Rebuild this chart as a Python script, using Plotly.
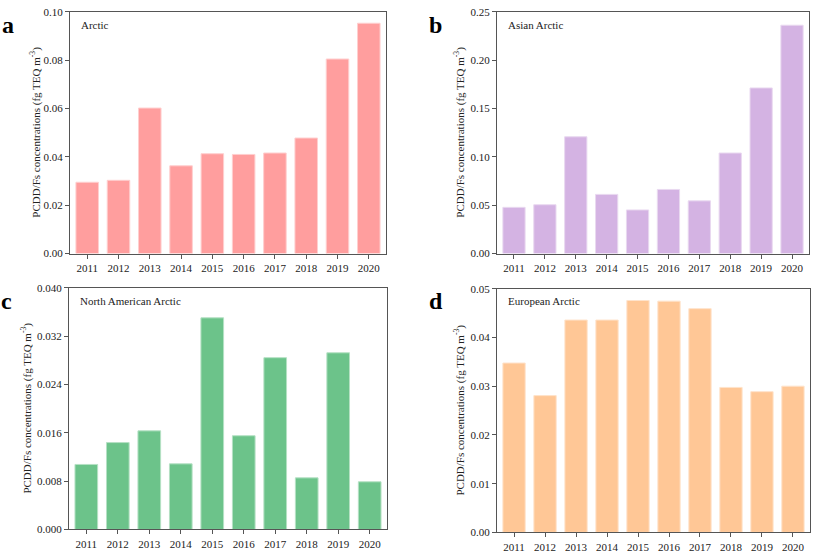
import plotly.graph_objects as go

years = ["2011", "2012", "2013", "2014", "2015", "2016", "2017", "2018", "2019", "2020"]
arctic = [0.0295, 0.0303, 0.0602, 0.0363, 0.0413, 0.0410, 0.0416, 0.0478, 0.0805, 0.0953]
asian = [0.0478, 0.0505, 0.1208, 0.0612, 0.0451, 0.0663, 0.0545, 0.1040, 0.1713, 0.2362]
north_american = [0.01076, 0.01438, 0.01632, 0.01086, 0.03503, 0.01551, 0.02843, 0.00854, 0.02924, 0.00789]
european = [0.03476, 0.02807, 0.04358, 0.04358, 0.04759, 0.04746, 0.04592, 0.02975, 0.02888, 0.03001]

W, H = 813, 556
FONT = "Liberation Serif, Times New Roman, serif"

panels = [
    # data, name, letter, color, edge, x0,x1,y0,y1 (px), yrange, dtick, fmt, title offset
    (arctic, "Arctic", "a", "#FF9E9E", "#FFCFCF", 70, 386, 6, 253, [0, 0.10], 0.02, ".2f", 34),
    (asian, "Asian Arctic", "b", "#D4B3E3", "#E9D9F0", 497, 809, 6, 253, [0, 0.25], 0.05, ".2f", 37),
    (north_american, "North American Arctic", "c", "#6CC38A", "#B5E1C4", 69, 387, 288, 535, [0, 0.040], 0.008, ".3f", 42),
    (european, "European Arctic", "d", "#FFC796", "#FFE3CB", 497, 810, 289, 538, [0, 0.05], 0.01, ".2f", 37),
]

fig = go.Figure()
annotations = []
for i, (vals, name, letter, col, edge, x0, x1, y0, y1, yr, dt, fmt, toff) in enumerate(panels):
    k = "" if i == 0 else str(i + 1)
    fig.add_trace(go.Bar(
        x=years, y=vals, xaxis="x" + k, yaxis="y" + k,
        marker=dict(color=col, line=dict(color=edge, width=1)),
        width=0.72, showlegend=False,
    ))
    xd = [x0 / W, x1 / W]
    yd = [1 - y1 / H, 1 - y0 / H]
    axstyle = dict(showline=True, linecolor="#555555", linewidth=1, mirror=True,
                   ticks="outside", ticklen=4, tickcolor="#555555", tickwidth=1,
                   showgrid=False, zeroline=False,
                   tickfont=dict(family=FONT, size=11, color="#222222"))
    fig.layout["xaxis" + k] = dict(domain=xd, anchor="y" + k, type="category",
                                   range=[-0.55, 9.55], **axstyle)
    fig.layout["yaxis" + k] = dict(domain=yd, anchor="x" + k, range=yr, dtick=dt,
                                   tick0=0, tickformat=fmt, **axstyle)
    # y-axis title
    annotations.append(dict(
        text="PCDD/Fs concentrations (fg TEQ m<sup>-3</sup>)",
        xref="paper", yref="paper", x=(x0 - toff) / W, y=1 - (y0 + y1) / 2 / H,
        textangle=-90, showarrow=False, xanchor="center", yanchor="middle",
        font=dict(family=FONT, size=11, color="#222222"),
    ))
    # panel letter
    annotations.append(dict(
        text="<b>%s</b>" % letter, xref="paper", yref="paper",
        x=(x0 - 70) / W, y=1 - (y0 + 13) / H, showarrow=False,
        xanchor="left", yanchor="middle",
        font=dict(family=FONT, size=24, color="#000000"),
    ))
    # region label
    annotations.append(dict(
        text=name, xref="paper", yref="paper",
        x=(x0 + 9) / W, y=1 - (y0 + 13) / H, showarrow=False,
        xanchor="left", yanchor="middle",
        font=dict(family=FONT, size=11, color="#222222"),
    ))

fig.update_layout(
    width=W, height=H, margin=dict(l=0, r=0, t=0, b=0),
    paper_bgcolor="white", plot_bgcolor="white",
    annotations=annotations, bargap=0.28,
)
fig.write_html(
    "out.html",
    config={"displayModeBar": False},
    post_script="document.body.style.margin='0';document.body.style.overflow='hidden';",
)
